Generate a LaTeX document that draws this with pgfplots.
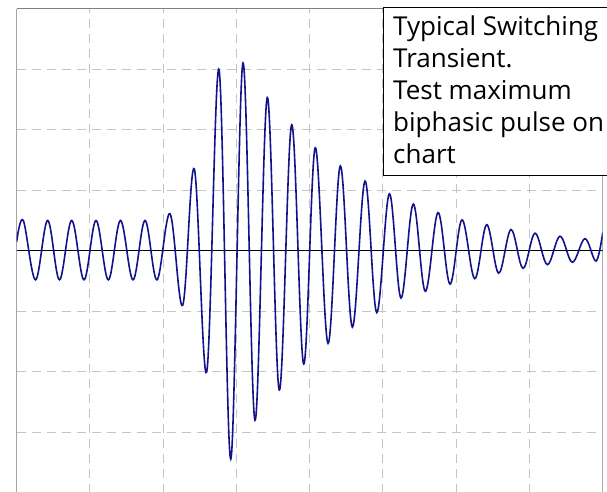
\documentclass[border=0pt]{standalone}
\usepackage{pgfplots}
\pgfplotsset{compat=1.18}
\usepackage{pgfplotstable}
\usepackage{fontspec}
\setmainfont{Open Sans}
\definecolor{wave}{RGB}{18,18,138}
\definecolor{gridgray}{RGB}{196,196,196}
\definecolor{bordergray}{RGB}{128,128,128}

\pgfplotstableread{
x y
0.000 0.15
0.090 0.50
0.257 -0.48
0.423 0.50
0.584 -0.48
0.751 0.50
0.919 -0.48
1.083 0.50
1.251 -0.48
1.417 0.50
1.588 -0.48
1.752 0.50
1.915 -0.48
2.093 0.61
2.266 -0.90
2.425 1.35
2.594 -2.00
2.762 2.99
2.922 -3.44
3.089 3.10
3.253 -2.80
3.421 2.53
3.585 -2.30
3.754 2.08
3.918 -1.87
4.076 1.70
4.250 -1.53
4.418 1.40
4.582 -1.26
4.755 1.15
4.915 -1.02
5.087 0.94
5.246 -0.78
5.414 0.77
5.578 -0.67
5.752 0.63
5.915 -0.55
6.079 0.51
6.253 -0.46
6.416 0.43
6.580 -0.37
6.748 0.35
6.912 -0.29
7.076 0.29
7.244 -0.23
7.417 0.24
7.585 -0.19
7.758 0.20
7.909 -0.17
8.000 0.30
}\wavedata

\begin{document}
\begin{tikzpicture}
\useasboundingbox (0pt,0pt) rectangle (607pt,491pt);
\clip (0pt,0pt) rectangle (607pt,491pt);
\begin{axis}[
  at={(16.7pt,-2pt)}, anchor=south west,
  scale only axis, width=586pt, height=484.5pt,
  xmin=0, xmax=8, ymin=-4, ymax=4,
  axis line style={draw=none},
  xtick={1,...,7}, ytick={-3,-2,-1,1,2,3},
  xticklabels={}, yticklabels={},
  major tick length=0pt,
  grid=major,
  major grid style={draw=gridgray, line width=1pt, dash pattern=on 9pt off 6pt},
]
\draw[bordergray, line width=1pt] (axis cs:0,4) -- (axis cs:8,4) -- (axis cs:8,-4);
\draw[black, line width=1.4pt] (axis cs:0,-4) -- (axis cs:0,4);
\draw[black, line width=1pt] (axis cs:0,0) -- (axis cs:8,0);
\addplot[wave, line width=1.6pt, smooth, tension=0.6] table[x=x, y=y] {\wavedata};
\end{axis}
\draw[black, fill=white, line width=1pt] (383.3pt,316pt) rectangle (640pt,483.7pt);
\begin{scope}[every node/.style={anchor=base west, inner sep=0pt, font=\fontsize{26}{32}\selectfont}]
\node at (393pt,455.3pt) {Typical Switching};
\node at (393pt,423.8pt) {Transient.};
\node at (393pt,391.3pt) {Test maximum};
\node at (393pt,359.4pt) {biphasic pulse on};
\node at (393pt,327.7pt) {chart};
\end{scope}
\end{tikzpicture}
\end{document}
